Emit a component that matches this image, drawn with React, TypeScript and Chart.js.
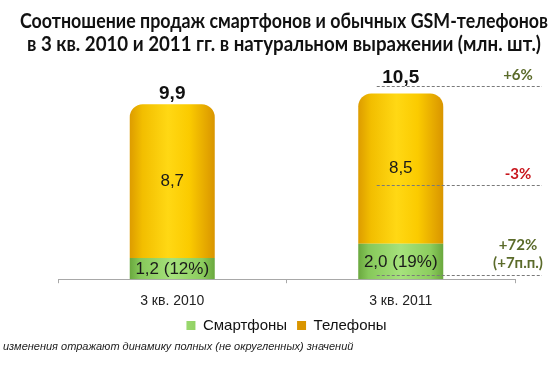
import React, { useEffect, useRef } from "react";
import { Chart, registerables } from "chart.js";

Chart.register(...registerables);

const categories = ["3 кв. 2010", "3 кв. 2011"];
const smartphones = [1.2, 2.0];
const phones = [8.7, 8.5];
const smartLabels = ["1,2 (12%)", "2,0 (19%)"];
const phoneLabels = ["8,7", "8,5"];
const totalLabels = ["9,9", "10,5"];
const changeTexts = [["+6%"], ["-3%"], ["+72%", "(+7п.п.)"]];
const changeColors = ["#5b6b2a", "#c8161d", "#5b6b2a"];
const changeLevels = [10.9, 5.3, 0.23];
const titleLines = [
  "Соотношение продаж смартфонов и обычных GSM-телефонов",
  "в 3 кв. 2010 и 2011 гг. в натуральном выражении (млн. шт.)",
];
const footnote = "изменения отражают динамику полных (не округленных) значений";

const BAR_PCT = 0.372;

function barGradient(ctx: any, stops: [number, string][], solid: string) {
  if (ctx.type !== "data") return solid;
  const chart = ctx.chart;
  const xs = chart.scales?.x;
  if (!xs || !chart.chartArea) return solid;
  const cx = xs.getPixelForValue(ctx.dataIndex);
  const half = (xs.width / categories.length) * BAR_PCT / 2;
  const g = chart.ctx.createLinearGradient(cx - half, 0, cx + half, 0);
  stops.forEach(([o, c]) => g.addColorStop(o, c));
  return g;
}

const labelsPlugin = {
  id: "customLabels",
  afterDatasetsDraw(chart: any) {
    const { ctx } = chart;
    const m0 = chart.getDatasetMeta(0);
    const m1 = chart.getDatasetMeta(1);
    const ys = chart.scales.y;
    const xs = chart.scales.x;
    ctx.save();
    // title
    ctx.fillStyle = "#111";
    ctx.font = "bold 20px Lato, 'Open Sans', sans-serif";
    ctx.textAlign = "center";
    ctx.textBaseline = "middle";
    const titleWidths = [528, 514];
    titleLines.forEach((t, j) => ctx.fillText(t, 284, 22 + j * 23, titleWidths[j]));

    for (let i = 0; i < categories.length; i++) {
      const b0 = m0.data[i];
      const b1 = m1.data[i];
      ctx.textBaseline = "middle";
      ctx.fillStyle = "#1a1a1a";
      ctx.font = "17px 'Liberation Sans', Arial, sans-serif";
      ctx.fillText(smartLabels[i], b0.x, (b0.y + b0.base) / 2 + 1);
      ctx.fillText(phoneLabels[i], b1.x, (b1.y + b1.base) / 2);
      ctx.font = "bold 19px 'Liberation Sans', Arial, sans-serif";
      ctx.fillStyle = "#111";
      ctx.textBaseline = "alphabetic";
      ctx.fillText(totalLabels[i], b1.x, b1.y - 5 - i * 6);
    }
    // change annotations
    const cx = xs.getPixelForValue(1);
    const x0 = cx - 24;
    const x1 = chart.width - 18;
    const tx = chart.width - 42;
    changeLevels.forEach((lv, k) => {
      const y = ys.getPixelForValue(lv);
      ctx.strokeStyle = "#7a7a7a";
      ctx.lineWidth = 1;
      ctx.setLineDash([3, 2]);
      ctx.beginPath();
      ctx.moveTo(x0, Math.round(y) + 0.5);
      ctx.lineTo(x1, Math.round(y) + 0.5);
      ctx.stroke();
      ctx.setLineDash([]);
      ctx.fillStyle = changeColors[k];
      ctx.font = "bold 15px Lato, 'Open Sans', sans-serif";
      ctx.textAlign = "center";
      ctx.textBaseline = "bottom";
      const lines = changeTexts[k];
      lines.forEach((t, j) => {
        ctx.fillText(t, tx, y - 4 - (lines.length - 1 - j) * 18);
      });
    });
    // footnote
    ctx.fillStyle = "#222";
    ctx.font = "italic 11px 'Liberation Sans', Arial, sans-serif";
    ctx.textAlign = "left";
    ctx.textBaseline = "middle";
    ctx.fillText(footnote, 3, 347);
    ctx.restore();
  },
};

export default function App() {
  const ref = useRef<HTMLCanvasElement>(null);
  useEffect(() => {
    document.body.style.margin = "0";
    const chart = new Chart(ref.current!, {
      type: "bar",
      data: {
        labels: categories,
        datasets: [
          {
            label: "Смартфоны",
            data: smartphones,
            backgroundColor: (c: any) =>
              barGradient(c, [[0, "#6aa83e"], [0.12, "#86c85a"], [0.5, "#a6e27c"], [0.85, "#8ccd5e"], [1, "#6aa83e"]], "#8fd060"),
            borderWidth: 0,
            borderSkipped: false,
            borderRadius: 0,
          },
          {
            label: "Телефоны",
            data: phones,
            backgroundColor: (c: any) =>
              barGradient(c, [[0, "#dd9c00"], [0.15, "#f2be00"], [0.45, "#ffd814"], [0.7, "#fbcb00"], [1, "#d99500"]], "#e4a900"),
            borderWidth: 0,
            borderSkipped: false,
            borderRadius: { topLeft: 13, topRight: 13, bottomLeft: 0, bottomRight: 0 },
          },
        ],
      },
      options: {
        animation: false,
        responsive: false,
        maintainAspectRatio: false,
        layout: { padding: { left: 58, right: 45, top: 67, bottom: 23 } },
        datasets: { bar: { barPercentage: BAR_PCT, categoryPercentage: 1 } },
        scales: {
          x: {
            stacked: true,
            grid: { drawOnChartArea: false, drawTicks: true, tickLength: 4, color: "#a8a8a8" },
            border: { display: true, color: "#a8a8a8" },
            ticks: { color: "#222", font: { size: 14, family: "'Liberation Sans', Arial, sans-serif" }, padding: 10 },
            afterFit: (s: any) => {
              s.height = s.height - 12;
            },
          },
          y: { stacked: true, display: false, min: 0, max: 12 },
        },
        plugins: {
          title: { display: false },
          legend: {
            position: "bottom",
            labels: {
              color: "#111",
              boxWidth: 9,
              boxHeight: 9,
              padding: 10,
              font: { size: 15, family: "'Liberation Sans', Arial, sans-serif" },
            },
          },
          tooltip: { enabled: false },
        },
      },
      plugins: [labelsPlugin],
    } as any);
    return () => chart.destroy();
  }, []);
  return (
    <div style={{ position: "absolute", left: 0, top: 0, width: 560, height: 366, background: "#fff" }}>
      <canvas ref={ref} width={560} height={366} style={{ width: 560, height: 366 }} />
    </div>
  );
}
